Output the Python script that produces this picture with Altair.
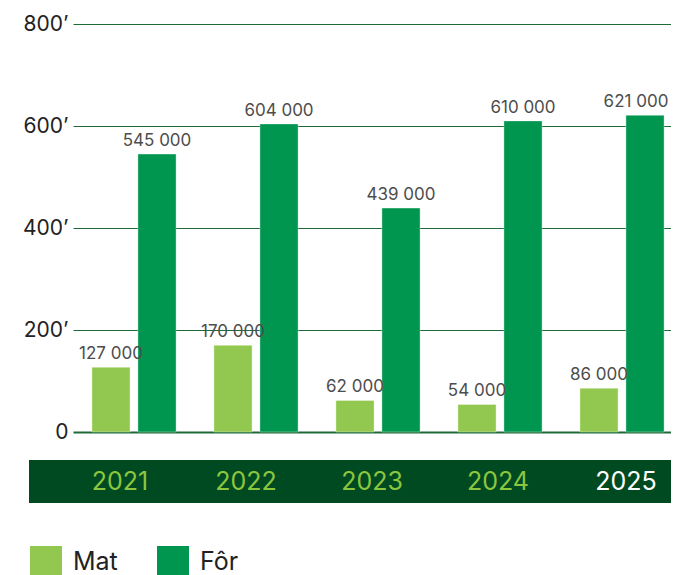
import altair as alt
import pandas as pd

years = ["2021", "2022", "2023", "2024", "2025"]
mat = [127000, 170000, 62000, 54000, 86000]
forr = [545000, 604000, 439000, 610000, 621000]
series = ["Mat", "Fôr"]
colors = ["#92c84f", "#00964f"]

rows = []
for i, y in enumerate(years):
    rows.append({"year": y, "series": "Mat", "value": mat[i]})
    rows.append({"year": y, "series": "Fôr", "value": forr[i]})
df = pd.DataFrame(rows)

FONT = "Inter"
W, H = 598, 408
XR = 610

xscale = alt.Scale(domain=years, range=[0, XR], paddingInner=0.31, paddingOuter=0.155)
xoff = alt.XOffset("series:N", sort=series, scale=alt.Scale(domain=series, paddingInner=0.17, paddingOuter=0))

band = alt.Chart(pd.DataFrame({"a": [0]})).mark_rect(color="#004a22", clip=False).encode(
    x=alt.value(-44), x2=alt.value(W + 20), y=alt.value(436), y2=alt.value(479)
)

bars = alt.Chart(df).mark_bar(stroke="white", strokeWidth=0.6, strokeOpacity=0.6).encode(
    x=alt.X("year:N", scale=xscale, sort=years,
            axis=alt.Axis(title=None, domain=False, ticks=False, labelAngle=0,
                          labelFontSize=25, labelFont=FONT, labelBaseline="middle",
                          labelPadding=49, zindex=2,
                          labelOffset={"expr": "[-14, -10, -6, -2, 4][indexof(['2021','2022','2023','2024','2025'], datum.value)]"},
                          labelColor={"expr": "datum.value == '2025' ? 'white' : '#8cc63f'"})),
    xOffset=xoff,
    y=alt.Y("value:Q", scale=alt.Scale(domain=[0, 800000], nice=False),
            axis=alt.Axis(title=None, values=[0, 200000, 400000, 600000, 800000],
                          domain=False, ticks=False, grid=True, gridColor="#1e6b3a",
                          gridWidth={"expr": "datum.value == 0 ? 2 : 1"},
                          labelFontSize=21, labelFont=FONT, labelColor="#222222",
                          labelPadding=5,
                          labelExpr="datum.value == 0 ? '0' : (datum.value/1000) + '\u2019'")),
    color=alt.Color("series:N", sort=series, scale=alt.Scale(domain=series, range=colors),
                    legend=alt.Legend(title=None, orient="none", legendX=-43, legendY=522,
                                      direction="horizontal", symbolType="square",
                                      symbolSize=1024, symbolStrokeWidth=0,
                                      labelFontSize=25, labelFont=FONT, labelColor="#222222",
                                      labelOffset=11, columnPadding=39, padding=0)),
)

def label_layer(dx, cond):
    return alt.Chart(df).mark_text(baseline="bottom", dy=-4, dx=dx, fontSize=17, font=FONT, color="#4d4d4d").encode(
        x=alt.X("year:N", scale=xscale, sort=years),
        xOffset=xoff,
        y=alt.Y("value:Q"),
        text=alt.Text("label:N"),
    ).transform_filter(cond).transform_calculate(label="replace(format(datum.value, ','), /,/g, ' ')")

last = "datum.year == '2025' && datum.series == 'Fôr'"
labels_main = label_layer(0, "!(" + last + ")")
labels_last = label_layer(-9, last)

chart = alt.layer(band, bars, labels_main, labels_last).properties(
    width=W, height=H,
    autosize=alt.AutoSizeParams(type="none"),
    padding={"left": 65, "top": 16, "right": 0, "bottom": 143},
).configure_view(stroke=None).configure_axis(gridOpacity=1)

chart.save("out.html", embed_options={"renderer": "svg", "actions": False})
